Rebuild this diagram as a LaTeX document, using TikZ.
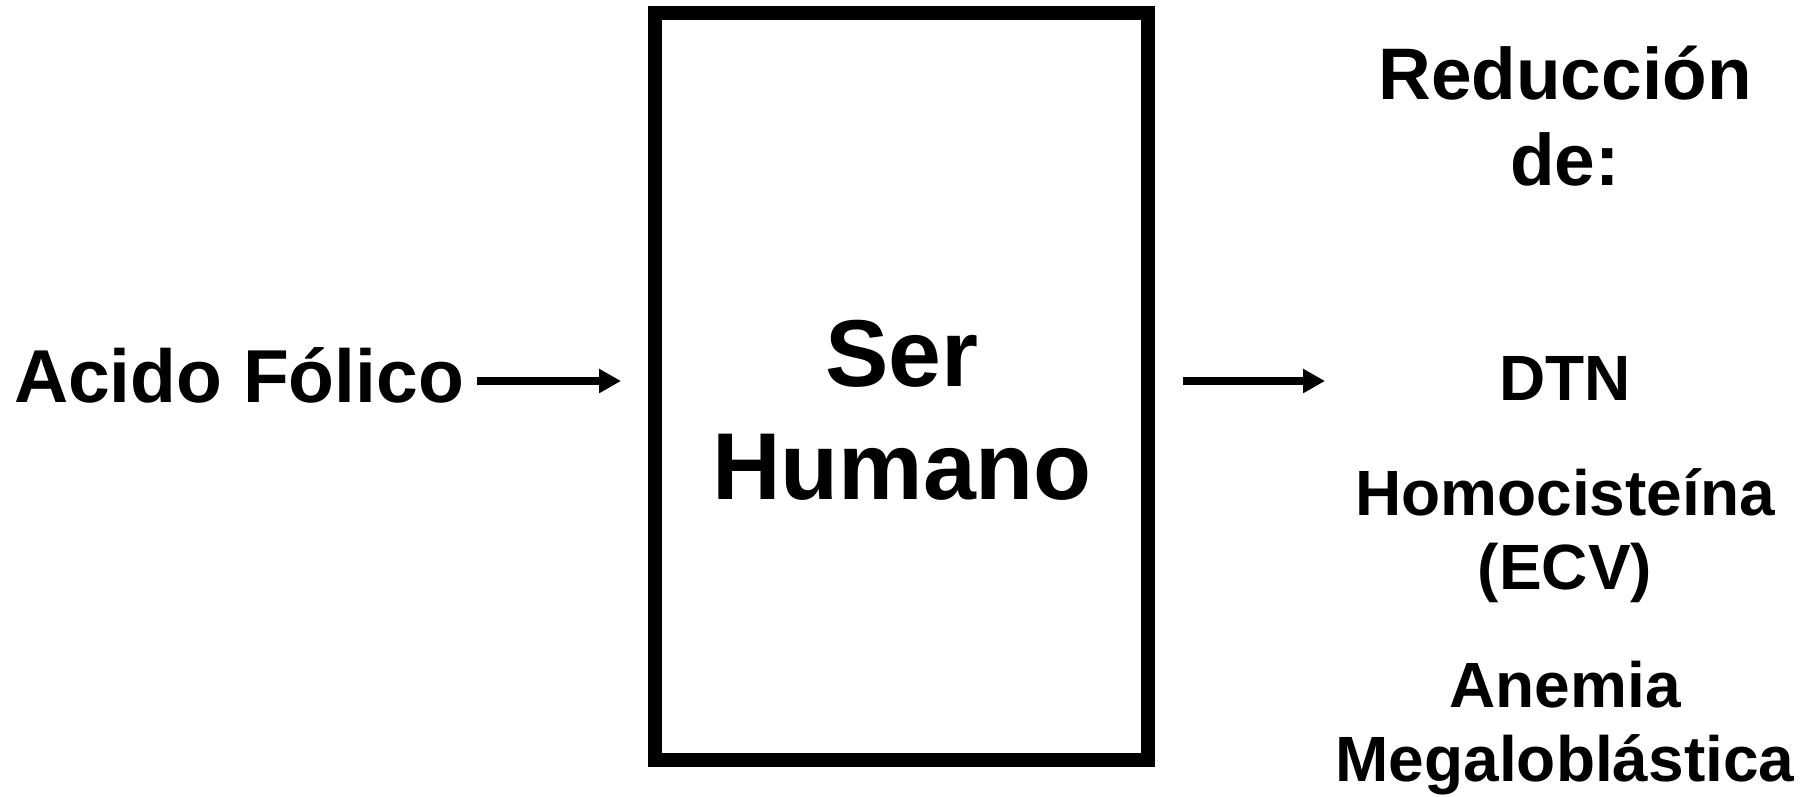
\documentclass[tikz,border=0pt]{standalone}
\usepackage{fontspec}
\setmainfont{Liberation Sans}
\usetikzlibrary{arrows.meta}

\tikzset{
  lbl/.style={inner sep=0pt, outer sep=0pt, anchor=base, font=\bfseries},
  bigbox/.style={draw, line width=14pt, minimum width=493pt, minimum height=747pt,
                 inner sep=0pt, outer sep=0pt},
  flow/.style={line width=8pt, -{Triangle[length=22pt, width=23pt]}},
  title/.style={lbl, font=\bfseries\fontsize{95}{109}\selectfont},
  head/.style={lbl, font=\bfseries\fontsize{73}{84}\selectfont},
  item/.style={lbl, font=\bfseries\fontsize{64}{74}\selectfont}
}

\begin{document}
\begin{tikzpicture}[x=1pt, y=-1pt]
  \useasboundingbox (0,0) rectangle (1810,796);

  % central block
  \node[bigbox] (box) at (901.5,386.5) {};
  \node[title] (ser) at (902,386) {Ser};
  \node[title] (humano) at (902,499) {Humano};

  % input
  \node[lbl, anchor=base west, font=\bfseries\fontsize{75}{86}\selectfont] (acido) at (14,402) {Acido Fólico};

  % outputs
  \node[head] (red1) at (1565,99) {Reducción};
  \node[head] (red2) at (1565,185) {de:};
  \node[item] (dtn) at (1565,400) {DTN};
  \node[item] (homo) at (1565,515) {Homocisteína};
  \node[item] (ecv) at (1565,589) {(ECV)};
  \node[item] (anem1) at (1565,707) {Anemia};
  \node[item] (anem2) at (1565,781) {Megaloblástica};

  % connectors
  \coordinate (inStart) at (477,381);
  \coordinate (inEnd) at ([xshift=-34pt]box.west |- inStart);
  \coordinate (outStart) at ([xshift=35pt]box.east |- inStart);
  \coordinate (outEnd) at (1325,381);
  \draw[flow] (inStart) -- (inEnd);
  \draw[flow] (outStart) -- (outEnd);
\end{tikzpicture}
\end{document}
